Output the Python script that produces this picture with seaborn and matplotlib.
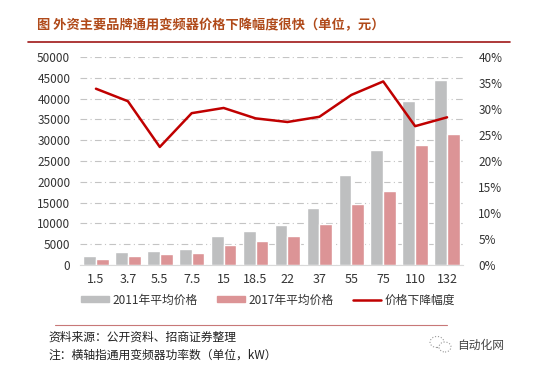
import numpy as np
import pandas as pd
import matplotlib
matplotlib.use('Agg')
import matplotlib.pyplot as plt
import seaborn as sns
from matplotlib.lines import Line2D
from matplotlib.patches import Patch, Ellipse

# 功率数 (kW)
power = ['1.5', '3.7', '5.5', '7.5', '15', '18.5', '22', '37', '55', '75', '110', '132']
price_2011 = [2240, 3040, 3280, 3920, 6880, 8240, 9520, 13600, 21600, 27760, 39360, 44480]
price_2017 = [1520, 2080, 2560, 2880, 4880, 5840, 6880, 9920, 14640, 17840, 28800, 31600]
drop_pct = [33.9, 31.5, 22.7, 29.2, 30.2, 28.2, 27.5, 28.5, 32.7, 35.3, 26.7, 28.4]

s1 = '2011年平均价格'
s2 = '2017年平均价格'
s3 = '价格下降幅度'

sns.set_style('white')
plt.rcParams['font.family'] = ['Noto Sans CJK SC', 'DejaVu Sans']

df = pd.DataFrame({'power': power * 2,
                   'price': price_2011 + price_2017,
                   'year': [s1] * len(power) + [s2] * len(power)})

gray = '#BEBFC0'
pink = '#DC9496'
red = '#C00000'

fig = plt.figure(figsize=(5.33, 3.69), dpi=100)
ax = fig.add_axes([80 / 533, 1 - 265 / 369, (463 - 80) / 533, (265 - 57) / 369])

sns.barplot(data=df, x='power', y='price', hue='year', order=power,
            palette=[gray, pink], width=0.8, saturation=1, ax=ax, legend=False)
ax.set_ylim(0, 50000)
ax.set_yticks(np.arange(0, 50001, 5000))
ax.set_xlim(-0.5, len(power) - 0.5)
ax.set_xlabel('')
ax.set_ylabel('')
ax.grid(axis='y', color='#C4C4C4', linestyle=(0, (6, 3, 1, 3)), linewidth=0.8)
ax.set_axisbelow(True)
for sp in ['top', 'right', 'left']:
    ax.spines[sp].set_visible(False)
ax.spines['bottom'].set_color('#D9D9D9')
ax.tick_params(axis='y', length=0, pad=7, labelsize=8.5, labelcolor='#333333')
ax.tick_params(axis='x', length=0, pad=6, labelsize=9, labelcolor='#333333')

ax2 = ax.twinx()
sns.lineplot(x=np.arange(len(power)), y=drop_pct, color=red, linewidth=1.8, ax=ax2)
ax2.set_ylim(0, 40)
ax2.set_yticks(np.arange(0, 41, 5))
ax2.set_yticklabels([f'{v}%' for v in range(0, 41, 5)])
ax2.set_xlim(-0.5, len(power) - 0.5)
for sp in ax2.spines.values():
    sp.set_visible(False)
ax2.tick_params(axis='y', length=0, pad=11, labelsize=8.5, labelcolor='#333333')

handles = [Patch(color=gray), Patch(color=pink), Line2D([], [], color=red, linewidth=1.8)]
fig.legend(handles, [s1, s2, s3], loc='center', bbox_to_anchor=(268 / 533, 1 - 300 / 369),
           ncol=3, frameon=False, fontsize=8.5, handlelength=2.4, handleheight=0.45,
           columnspacing=1.6, handletextpad=0.3, labelcolor='#333333')

# title and rules
fig.text(37 / 533, 1 - 25 / 369, '图 外资主要品牌通用变频器价格下降幅度很快（单位，元）',
         fontsize=9.5, fontweight='bold', color='#B04A1A', va='center', ha='left')
fig.add_artist(Line2D([28 / 533, 510 / 533], [1 - 42 / 369] * 2, color='#A01818', linewidth=1.2))
fig.add_artist(Line2D([55 / 533, 447 / 533], [1 - 325 / 369] * 2, color='#C87878', linewidth=0.8))

fig.text(48 / 533, 1 - 337 / 369, '资料来源：公开资料、招商证券整理', fontsize=8.5,
         color='#222222', va='center', ha='left')
fig.text(48 / 533, 1 - 355 / 369, '注：横轴指通用变频器功率数（单位，kW）', fontsize=8.5,
         color='#222222', va='center', ha='left')

# watermark
fig.add_artist(Ellipse((437 / 533, 1 - 342 / 369), 14 / 533, 11 / 369, fill=False,
                       edgecolor='#999999', linestyle=':', linewidth=0.8))
fig.add_artist(Ellipse((445 / 533, 1 - 347 / 369), 12 / 533, 10 / 369, facecolor='white',
                       edgecolor='#999999', linestyle=':', linewidth=0.8))
fig.text(457 / 533, 1 - 345 / 369, '自动化网', fontsize=8.5, color='#444444',
         va='center', ha='left')

fig.savefig('out.png', dpi=100, facecolor='white')
